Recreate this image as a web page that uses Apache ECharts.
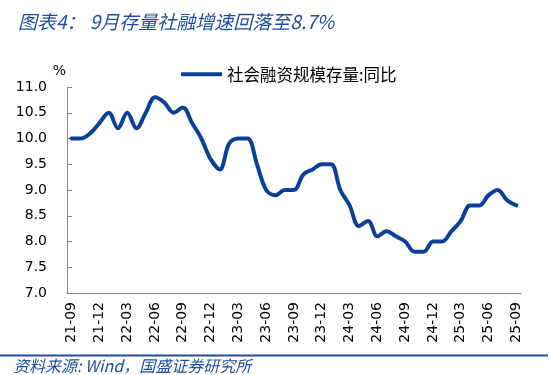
<!DOCTYPE html>
<html>
<head>
<meta charset="utf-8">
<script src="https://cdn.jsdelivr.net/npm/echarts@6/dist/echarts.min.js"></script>
<style>html,body{margin:0;padding:0;background:#fff}#c{width:550px;height:375px}</style>
</head>
<body>
<div id="c"></div>
<script>
const titleText = '图表4： 9月存量社融增速回落至8.7%';
const sourceText = '资料来源: Wind，国盛证券研究所';
const seriesName = '社会融资规模存量:同比';
const months = ['21-09','21-10','21-11','21-12','22-01','22-02','22-03','22-04','22-05','22-06','22-07','22-08','22-09','22-10','22-11','22-12','23-01','23-02','23-03','23-04','23-05','23-06','23-07','23-08','23-09','23-10','23-11','23-12','24-01','24-02','24-03','24-04','24-05','24-06','24-07','24-08','24-09','24-10','24-11','24-12','25-01','25-02','25-03','25-04','25-05','25-06','25-07','25-08','25-09'];
const values = [10.0,10.0,10.1,10.3,10.5,10.2,10.5,10.2,10.5,10.8,10.7,10.5,10.6,10.3,10.0,9.6,9.4,9.9,10.0,10.0,9.5,9.0,8.9,9.0,9.0,9.3,9.4,9.5,9.5,9.0,8.7,8.3,8.4,8.1,8.2,8.1,8.0,7.8,7.8,8.0,8.0,8.2,8.4,8.7,8.7,8.9,9.0,8.8,8.7];
const yMin = 7, yMax = 11, yStep = 0.5;

const chart = echarts.init(document.getElementById('c'), null, {renderer: 'canvas'});
chart.setOption({
  animation: false,
  backgroundColor: '#fff',
  title: {
    text: titleText, left: 13, top: 7,
    textStyle: {fontFamily: 'Noto Sans CJK SC', fontStyle: 'italic', fontWeight: 'normal', fontSize: 19, color: '#1F4E9E'}
  },
  graphic: [
    {type: 'line', shape: {x1: 0, y1: 355.5, x2: 548, y2: 355.5}, style: {stroke: '#1F4E9E', lineWidth: 2}},
    {type: 'text', left: 13, top: 358, style: {text: sourceText, font: 'italic 16px "Noto Sans CJK SC"', fill: '#1F4E9E'}}
  ],
  legend: {
    data: [seriesName], left: 176, top: 61, icon: 'roundRect', itemWidth: 41, itemHeight: 4, itemGap: 10,
    textStyle: {fontFamily: 'Noto Sans CJK SC', fontSize: 16.5, color: '#000'}
  },
  grid: {left: 67, right: 29, top: 87, bottom: 82},
  xAxis: {
    type: 'category', data: months, boundaryGap: true,
    axisLine: {lineStyle: {color: '#888', width: 1}},
    axisTick: {inside: true, length: 5, interval: 2, lineStyle: {color: '#888'}},
    axisLabel: {interval: 2, rotate: 90, margin: 9, fontFamily: 'DejaVu Sans', fontSize: 14, color: '#000'}
  },
  yAxis: {
    type: 'value', min: yMin, max: yMax, interval: yStep,
    name: '%', nameLocation: 'end', nameGap: 9,
    nameTextStyle: {fontFamily: 'DejaVu Sans', fontSize: 14, color: '#000', align: 'right', padding: [0, 1, 0, 0]},
    axisLine: {show: true, lineStyle: {color: '#888', width: 1}},
    axisTick: {show: true, inside: true, length: 5, lineStyle: {color: '#888'}},
    splitLine: {show: false},
    axisLabel: {margin: 20, fontFamily: 'DejaVu Sans', fontSize: 14, color: '#000', formatter: v => v.toFixed(1)}
  },
  series: [{
    name: seriesName, type: 'line', data: values, smooth: 0.35, showSymbol: false,
    lineStyle: {width: 4, color: '#0A4196', cap: 'round'}, itemStyle: {color: '#0A4196'}
  }]
});
</script>
</body>
</html>
